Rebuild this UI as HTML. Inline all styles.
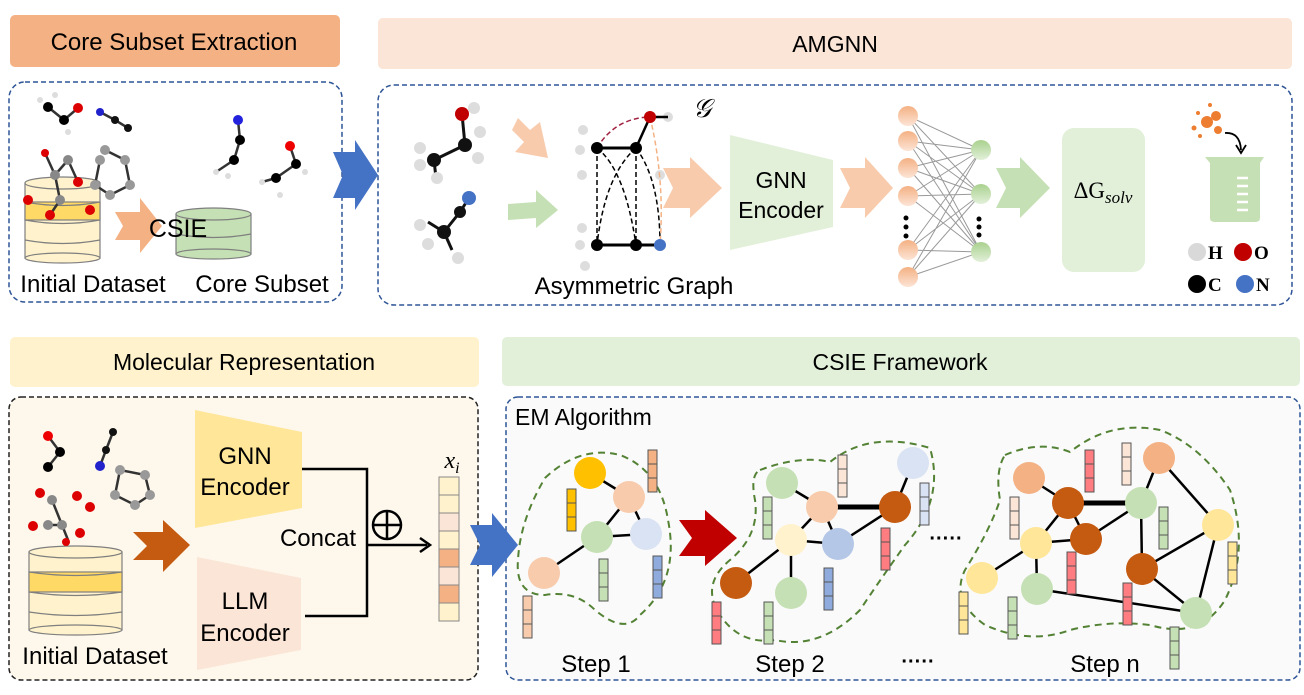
<!DOCTYPE html>
<html><head><meta charset="utf-8"><style>
html,body{margin:0;padding:0;background:#fff;}
svg{display:block;font-family:"Liberation Sans",sans-serif;}
</style></head><body>
<svg width="1304" height="695" viewBox="0 0 1304 695" xmlns="http://www.w3.org/2000/svg">
<!-- headers -->
<rect x="10" y="15" width="330" height="52" rx="5" fill="#F4B183"/>
<text x="174" y="50" font-size="24" text-anchor="middle">Core Subset Extraction</text>
<rect x="378" y="18" width="914" height="51" rx="5" fill="#FBE5D6"/>
<text x="835" y="52" font-size="23" text-anchor="middle">AMGNN</text>
<rect x="10" y="337" width="469" height="50" rx="5" fill="#FFF2CC"/>
<text x="244" y="370" font-size="23" text-anchor="middle">Molecular Representation</text>
<rect x="502" y="337" width="798" height="49" rx="5" fill="#E2F0D9"/>
<text x="900" y="370" font-size="23" text-anchor="middle">CSIE Framework</text>

<!-- dashed boxes -->
<rect x="9" y="82" width="333" height="220" rx="16" fill="none" stroke="#2F5597" stroke-width="1.5" stroke-dasharray="5,3"/>
<rect x="378" y="85" width="914" height="220" rx="16" fill="none" stroke="#2F5597" stroke-width="1.5" stroke-dasharray="5,3"/>
<rect x="9" y="397" width="469" height="283" rx="12" fill="#FEF8EC" stroke="#222" stroke-width="1.5" stroke-dasharray="5,3"/>
<rect x="506" y="397" width="794" height="283" rx="12" fill="#FAFAFA" stroke="#2F5597" stroke-width="1.5" stroke-dasharray="5,3"/>

<!-- blue arrows -->
<polygon points="333,152 355,152 355,140 378,175 355,210 355,198 333,198 343,175" fill="#4472C4"/>
<polygon points="470,525 492,525 492,513 518,545 492,577 492,565 470,565 480,545" fill="#4472C4"/>

<!-- top-left: databases -->
<g stroke="#7f7f7f" stroke-width="1.2">
<rect x="25" y="183" width="75" height="75" fill="#FFF2CC"/>
<rect x="25" y="202" width="75" height="18" fill="#FFD966"/>
<ellipse cx="62.5" cy="258" rx="37.5" ry="5" fill="#FFF2CC"/>
<path d="M25,220 Q62.5,227 100,220 M25,240 Q62.5,247 100,240 M25,202 Q62.5,209 100,202" fill="none"/>
<ellipse cx="62.5" cy="183" rx="37.5" ry="6" fill="#FFF2CC"/>
<rect x="220" y="268" width="0" height="0"/>
<rect x="220" y="264" width="0" height="0"/>
<rect x="220" y="262" width="0" height="0"/>
<rect x="220" y="262" width="0" height="0"/>
<rect x="220" y="261" width="0" height="0"/>
<rect x="220" y="260" width="0" height="0"/>
<rect x="220" y="259" width="0" height="0"/>
<rect x="220" y="258" width="0" height="0"/>
<rect x="220" y="257" width="0" height="0"/>
<rect x="220" y="256" width="0" height="0"/>
<rect x="220" y="255" width="0" height="0"/>
<rect x="220" y="214" width="0" height="0"/>
<rect x="220" y="214" width="0" height="0"/>
<rect x="220" y="214" width="0" height="0"/>
<rect x="220" y="214" width="0" height="0"/>
<rect x="220" y="214" width="0" height="0"/>
<rect x="220" y="214" width="0" height="0"/>
<rect x="220" y="214" width="0" height="0"/>
<rect x="220" y="214" width="0" height="0"/>
<rect x="220" y="214" width="0" height="0"/>
<rect x="220" y="214" width="0" height="0"/>
<rect x="220" y="214" width="0" height="0"/>
<rect x="220" y="214" width="0" height="0"/>
<rect x="176" y="214" width="75" height="40" fill="#C5E0B4"/>
<ellipse cx="213.5" cy="254" rx="37.5" ry="5" fill="#C5E0B4"/>
<path d="M176,234 Q213.5,241 251,234" fill="none"/>
<ellipse cx="213.5" cy="214" rx="37.5" ry="6" fill="#C5E0B4"/>
</g>
<polygon points="115,212 140,212 140,198 162,226 140,253 140,240 115,240 123,226" fill="#F4B183"/>
<text x="178" y="237" font-size="25" text-anchor="middle">CSIE</text>
<text x="93" y="292" font-size="24" text-anchor="middle">Initial Dataset</text>
<text x="262" y="292" font-size="24" text-anchor="middle">Core Subset</text>

<!-- top-left molecules -->
<g stroke="#333" stroke-width="2.5">
<line x1="48" y1="107" x2="64" y2="120"/><line x1="64" y1="120" x2="78" y2="108"/>
<line x1="100" y1="112" x2="115" y2="120"/><line x1="115" y1="120" x2="128" y2="128"/>
<line x1="45" y1="153" x2="55" y2="175"/><line x1="55" y1="175" x2="68" y2="160"/><line x1="68" y1="160" x2="78" y2="182"/><line x1="55" y1="175" x2="60" y2="200"/><line x1="60" y1="200" x2="50" y2="215"/>
<line x1="105" y1="150" x2="125" y2="160"/><line x1="125" y1="160" x2="130" y2="185"/><line x1="130" y1="185" x2="110" y2="195"/><line x1="110" y1="195" x2="95" y2="185"/><line x1="95" y1="185" x2="100" y2="160"/>
<line x1="238" y1="120" x2="240" y2="140"/><line x1="240" y1="140" x2="234" y2="160"/><line x1="234" y1="160" x2="216" y2="172"/>
<line x1="290" y1="146" x2="296" y2="164"/><line x1="296" y1="164" x2="276" y2="178"/><line x1="276" y1="178" x2="262" y2="182"/>
</g>
<g>
<circle cx="48" cy="107" r="5" fill="#000"/><circle cx="64" cy="120" r="5" fill="#000"/><circle cx="78" cy="108" r="5" fill="#d00"/>
<circle cx="40" cy="100" r="3" fill="#ddd"/><circle cx="55" cy="95" r="3" fill="#ddd"/><circle cx="68" cy="132" r="3" fill="#ddd"/>
<circle cx="100" cy="112" r="4" fill="#22c"/><circle cx="115" cy="120" r="4" fill="#111"/><circle cx="128" cy="128" r="4" fill="#111"/>
<circle cx="45" cy="153" r="4" fill="#d00"/><circle cx="55" cy="175" r="5" fill="#888"/><circle cx="68" cy="160" r="5" fill="#888"/><circle cx="78" cy="182" r="5" fill="#d00"/><circle cx="60" cy="200" r="5" fill="#888"/><circle cx="28" cy="200" r="5" fill="#d00"/><circle cx="50" cy="215" r="5" fill="#d00"/><circle cx="90" cy="210" r="5" fill="#d00"/>
<circle cx="105" cy="150" r="5" fill="#999"/><circle cx="125" cy="160" r="5" fill="#999"/><circle cx="130" cy="185" r="5" fill="#999"/><circle cx="110" cy="195" r="5" fill="#999"/><circle cx="95" cy="185" r="5" fill="#999"/><circle cx="100" cy="160" r="5" fill="#999"/>
<circle cx="238" cy="120" r="5" fill="#22d"/><circle cx="240" cy="140" r="5" fill="#000"/><circle cx="234" cy="160" r="5" fill="#000"/><circle cx="216" cy="172" r="3" fill="#ddd"/><circle cx="228" cy="176" r="3" fill="#ddd"/>
<circle cx="290" cy="146" r="5" fill="#e00"/><circle cx="296" cy="164" r="5" fill="#000"/><circle cx="276" cy="178" r="5" fill="#000"/><circle cx="262" cy="182" r="3" fill="#ddd"/><circle cx="305" cy="172" r="3" fill="#ddd"/><circle cx="280" cy="195" r="3" fill="#ddd"/>
</g>

<!-- AMGNN molecules -->
<g stroke="#111" stroke-width="3">
<line x1="462" y1="114" x2="465" y2="145"/><line x1="465" y1="145" x2="434" y2="160"/><line x1="434" y1="160" x2="436" y2="178"/>
<line x1="469" y1="198" x2="460" y2="212"/><line x1="460" y1="212" x2="444" y2="232"/><line x1="444" y1="232" x2="452" y2="250"/><line x1="444" y1="232" x2="428" y2="222"/>
</g>
<circle cx="462" cy="114" r="7" fill="#C00000"/><circle cx="474" cy="108" r="6" fill="#ddd"/>
<circle cx="465" cy="145" r="7" fill="#111"/><circle cx="434" cy="160" r="7" fill="#111"/>
<circle cx="420" cy="148" r="6" fill="#ddd"/><circle cx="420" cy="165" r="6" fill="#ddd"/><circle cx="437" cy="178" r="6" fill="#ddd"/><circle cx="480" cy="132" r="6" fill="#ddd"/><circle cx="478" cy="158" r="6" fill="#ddd"/>
<circle cx="469" cy="198" r="7" fill="#4472C4"/><circle cx="460" cy="212" r="6" fill="#111"/><circle cx="444" cy="232" r="7" fill="#111"/>
<circle cx="420" cy="225" r="6" fill="#ddd"/><circle cx="428" cy="244" r="6" fill="#ddd"/><circle cx="458" cy="258" r="6" fill="#ddd"/>
<polygon points="518,118 530,130 540,122 548,158 515,152 524,142 512,130" fill="#F8CBAD"/>
<polygon points="508,204 536,202 536,190 558,210 536,228 536,218 508,220" fill="#C5E0B4"/>

<!-- asymmetric graph -->
<g>
<circle cx="583" cy="130" r="5" fill="#ddd"/><circle cx="580" cy="150" r="5" fill="#ddd"/><circle cx="582" cy="175" r="5" fill="#ddd"/>
<circle cx="582" cy="228" r="5" fill="#ddd"/><circle cx="580" cy="245" r="5" fill="#ddd"/><circle cx="585" cy="266" r="5" fill="#ddd"/>
<circle cx="668" cy="117" r="5" fill="#ddd"/><circle cx="660" cy="175" r="5" fill="#ddd"/>
<line x1="597" y1="148" x2="636" y2="148" stroke="#000" stroke-width="3"/>
<line x1="597" y1="245" x2="660" y2="245" stroke="#000" stroke-width="3"/>
<line x1="636" y1="148" x2="650" y2="117" stroke="#000" stroke-width="2.5"/>
<line x1="650" y1="117" x2="668" y2="117" stroke="#000" stroke-width="2.5"/>
<g fill="none" stroke="#000" stroke-width="1.5" stroke-dasharray="5,3">
<line x1="597" y1="148" x2="597" y2="245"/><line x1="636" y1="148" x2="636" y2="245"/>
<path d="M597,148 Q625,170 636,245"/><path d="M636,148 Q605,175 597,245"/>
<path d="M636,148 Q660,180 660,245"/>
</g>
<path d="M597,148 Q615,118 650,117" fill="none" stroke="#A02040" stroke-width="1.5" stroke-dasharray="5,3"/>
<path d="M650,117 Q665,180 660,245" fill="none" stroke="#F4B183" stroke-width="1.5" stroke-dasharray="5,3"/>
<circle cx="597" cy="148" r="6" fill="#000"/><circle cx="636" cy="148" r="6" fill="#000"/>
<circle cx="597" cy="245" r="6" fill="#000"/><circle cx="636" cy="245" r="6" fill="#000"/>
<circle cx="660" cy="245" r="6" fill="#4472C4"/><circle cx="650" cy="117" r="6" fill="#C00000"/>
</g>
<text x="702" y="117" font-size="26" font-style="italic" font-family="Liberation Serif,serif" text-anchor="middle">𝒢</text>
<text x="634" y="294" font-size="24" text-anchor="middle">Asymmetric  Graph</text>
<polygon points="663,168 690,168 690,157 722,188 690,218 690,208 663,208 673,188" fill="#F8CBAD"/>
<polygon points="730,135 833,160 833,227 730,250" fill="#E2F0D9"/>
<text x="781" y="188" font-size="23" text-anchor="middle">GNN</text>
<text x="781" y="218" font-size="23" text-anchor="middle">Encoder</text>
<polygon points="840,168 865,168 865,157 893,188 865,218 865,208 840,208 850,188" fill="#F8CBAD"/>

<!-- NN -->
<g stroke="#999" stroke-width="1">
<path d="M908,116 L981,150 M908,116 L981,194 M908,116 L981,252 M908,141 L981,150 M908,141 L981,194 M908,141 L981,252 M908,168 L981,150 M908,168 L981,194 M908,168 L981,252 M908,196 L981,150 M908,196 L981,194 M908,196 L981,252 M908,250 L981,150 M908,250 L981,194 M908,250 L981,252 M908,277 L981,150 M908,277 L981,194 M908,277 L981,252"/>
</g>
<defs>
<linearGradient id="og" x1="0" y1="0" x2="0" y2="1"><stop offset="0" stop-color="#F4B183"/><stop offset="1" stop-color="#FCE4D6"/></linearGradient>
<linearGradient id="gg" x1="0" y1="0" x2="0" y2="1"><stop offset="0" stop-color="#A9D18E"/><stop offset="1" stop-color="#E2F0D9"/></linearGradient>
</defs>
<g fill="url(#og)"><circle cx="908" cy="116" r="10"/><circle cx="908" cy="141" r="10"/><circle cx="908" cy="168" r="10"/><circle cx="908" cy="196" r="10"/><circle cx="908" cy="250" r="10"/><circle cx="908" cy="277" r="10"/></g>
<g fill="#000"><circle cx="906" cy="218" r="2.5"/><circle cx="906" cy="227" r="2.5"/><circle cx="906" cy="236" r="2.5"/><circle cx="979" cy="219" r="2.5"/><circle cx="979" cy="227" r="2.5"/><circle cx="979" cy="235" r="2.5"/></g>
<g fill="url(#gg)"><circle cx="981" cy="150" r="10"/><circle cx="981" cy="194" r="10"/><circle cx="981" cy="252" r="10"/></g>
<polygon points="996,168 1020,168 1020,157 1050,188 1020,218 1020,208 996,208 1006,188" fill="#C5E0B4"/>
<rect x="1062" y="128" width="83" height="144" rx="12" fill="#E2F0D9"/>
<text x="1103" y="198" font-size="23" text-anchor="middle" font-family="Liberation Serif,serif">ΔG<tspan font-style="italic" font-size="17" dy="5">solv</tspan></text>

<!-- beaker -->
<g fill="#ED7D31"><circle cx="1207" cy="122" r="6"/><circle cx="1216" cy="116" r="5"/><circle cx="1198" cy="113" r="2"/><circle cx="1210" cy="105" r="2"/><circle cx="1194" cy="128" r="2.5"/><circle cx="1218" cy="130" r="4"/><circle cx="1200" cy="136" r="2"/></g>
<path d="M1225,133 Q1240,132 1241,150" fill="none" stroke="#000" stroke-width="1.8"/>
<path d="M1236,145 L1241,153 L1246,145" fill="none" stroke="#000" stroke-width="1.8"/>
<path d="M1205,157 L1264,157 L1260,163 L1260,218 Q1260,222 1255,222 L1215,222 Q1210,222 1210,218 L1210,163 Z" fill="#C5E0B4"/>
<g stroke="#fff" stroke-width="2.5"><line x1="1237" y1="178" x2="1248" y2="178"/><line x1="1237" y1="186" x2="1248" y2="186"/><line x1="1237" y1="194" x2="1248" y2="194"/><line x1="1237" y1="202" x2="1248" y2="202"/><line x1="1237" y1="210" x2="1248" y2="210"/></g>
<g font-family="Liberation Serif,serif" font-weight="bold" font-size="19">
<circle cx="1197" cy="252" r="9" fill="#D9D9D9"/><text x="1208" y="259">H</text>
<circle cx="1243" cy="252" r="9" fill="#C00000"/><text x="1254" y="259">O</text>
<circle cx="1197" cy="284" r="9" fill="#000"/><text x="1208" y="291">C</text>
<circle cx="1245" cy="284" r="9" fill="#4472C4"/><text x="1256" y="291">N</text>
</g>

<!-- bottom-left -->
<g stroke="#7f7f7f" stroke-width="1.2">
<rect x="29" y="552" width="93" height="78" fill="#FFF2CC"/>
<rect x="29" y="572" width="93" height="20" fill="#FFD966"/>
<ellipse cx="75.5" cy="630" rx="46.5" ry="5" fill="#FFF2CC"/>
<path d="M29,572 Q75.5,579 122,572 M29,592 Q75.5,599 122,592 M29,612 Q75.5,619 122,612" fill="none"/>
<ellipse cx="75.5" cy="552" rx="46.5" ry="6" fill="#FFF2CC"/>
</g>
<g stroke="#333" stroke-width="2.5">
<line x1="48" y1="436" x2="60" y2="452"/><line x1="60" y1="452" x2="48" y2="467"/>
<line x1="113" y1="432" x2="106" y2="450"/><line x1="106" y1="450" x2="100" y2="466"/>
<line x1="52" y1="500" x2="62" y2="525"/><line x1="62" y1="525" x2="48" y2="525"/><line x1="62" y1="525" x2="68" y2="540"/>
<line x1="120" y1="470" x2="145" y2="475"/><line x1="145" y1="475" x2="150" y2="495"/><line x1="150" y1="495" x2="135" y2="505"/><line x1="135" y1="505" x2="115" y2="495"/><line x1="115" y1="495" x2="120" y2="470"/>
</g>
<circle cx="48" cy="436" r="5" fill="#e00"/><circle cx="60" cy="452" r="5" fill="#000"/><circle cx="48" cy="467" r="5" fill="#000"/>
<circle cx="113" cy="432" r="4" fill="#111"/><circle cx="106" cy="450" r="4" fill="#111"/><circle cx="100" cy="466" r="5" fill="#22c"/>
<circle cx="40" cy="493" r="5" fill="#d00"/><circle cx="52" cy="500" r="5" fill="#888"/><circle cx="62" cy="525" r="5" fill="#888"/><circle cx="77" cy="496" r="5" fill="#d00"/><circle cx="33" cy="526" r="5" fill="#d00"/><circle cx="80" cy="533" r="5" fill="#d00"/><circle cx="66" cy="542" r="4" fill="#d00"/><circle cx="48" cy="525" r="5" fill="#888"/>
<circle cx="120" cy="470" r="5" fill="#999"/><circle cx="145" cy="475" r="5" fill="#999"/><circle cx="150" cy="495" r="5" fill="#999"/><circle cx="135" cy="505" r="5" fill="#999"/><circle cx="115" cy="495" r="5" fill="#999"/><circle cx="90" cy="507" r="5" fill="#d00"/>
<polygon points="133,532 163,532 163,520 190,545 163,572 163,560 133,560 147,546" fill="#C55A11"/>
<polygon points="195,410 302,432 302,508 195,528" fill="#FFE699"/>
<text x="245" y="464" font-size="24" text-anchor="middle">GNN</text>
<text x="245" y="495" font-size="24" text-anchor="middle">Encoder</text>
<polygon points="197,557 301,578 301,650 197,670" fill="#FBE5D6"/>
<text x="245" y="609" font-size="24" text-anchor="middle">LLM</text>
<text x="245" y="641" font-size="24" text-anchor="middle">Encoder</text>
<text x="95" y="664" font-size="24" text-anchor="middle">Initial Dataset</text>
<path d="M302,469 L367,469 L367,616 L305,616" fill="none" stroke="#000" stroke-width="2.5"/>
<line x1="367" y1="545" x2="427" y2="545" stroke="#000" stroke-width="2.5"/>
<path d="M420,538 L430,545 L420,552" fill="none" stroke="#000" stroke-width="2.5"/>
<text x="318" y="546" font-size="24" text-anchor="middle">Concat</text>
<circle cx="387" cy="525" r="14" fill="none" stroke="#000" stroke-width="2.5"/>
<line x1="373" y1="525" x2="401" y2="525" stroke="#000" stroke-width="2.5"/><line x1="387" y1="511" x2="387" y2="539" stroke="#000" stroke-width="2.5"/>
<text x="452" y="468" font-size="24" text-anchor="middle" font-style="italic" font-family="Liberation Serif,serif">x<tspan font-size="16" dy="5">i</tspan></text>
<g stroke="#888" stroke-width="1">
<rect x="439" y="477" width="20" height="18" fill="#FFF2CC"/><rect x="439" y="495" width="20" height="18" fill="#FFF2CC"/><rect x="439" y="513" width="20" height="18" fill="#FBE5D6"/><rect x="439" y="531" width="20" height="18" fill="#FFF2CC"/><rect x="439" y="549" width="20" height="18" fill="#F4B183"/><rect x="439" y="567" width="20" height="18" fill="#FBE5D6"/><rect x="439" y="585" width="20" height="18" fill="#F4B183"/><rect x="439" y="603" width="20" height="18" fill="#FFF2CC"/>
</g>

<!-- CSIE framework -->
<text x="515" y="425" font-size="23">EM Algorithm</text>
<g fill="none" stroke="#548235" stroke-width="2" stroke-dasharray="7,5">
<path d="M545,478 Q580,445 620,455 Q660,470 668,520 Q680,580 640,615 Q625,635 595,610 Q575,590 545,595 Q515,595 518,560 Q520,520 545,478 Z"/>
<path d="M760,470 Q800,455 830,462 Q870,430 930,448 Q945,500 905,545 Q880,580 860,610 Q820,650 775,640 Q740,645 720,615 Q700,585 730,560 Q760,535 755,500 Q750,475 760,470 Z"/>
<path d="M1005,455 Q1040,440 1070,452 Q1110,420 1160,430 Q1200,445 1230,490 Q1250,550 1225,600 Q1200,640 1150,625 Q1110,620 1070,630 Q1030,645 985,625 Q950,600 965,570 Q990,530 1000,500 Q995,470 1005,455 Z"/>
</g>
<g stroke="#000" stroke-width="2.5">
<line x1="590" y1="473" x2="629" y2="497"/><line x1="629" y1="497" x2="597" y2="537"/><line x1="629" y1="497" x2="646" y2="534"/><line x1="597" y1="537" x2="646" y2="534"/><line x1="597" y1="537" x2="544" y2="573"/>
<line x1="782" y1="483" x2="822" y2="507"/><line x1="822" y1="507" x2="791" y2="540"/><line x1="822" y1="507" x2="838" y2="544"/><line x1="791" y1="540" x2="838" y2="544"/><line x1="838" y1="544" x2="895" y2="507"/><line x1="895" y1="507" x2="913" y2="463"/><line x1="791" y1="540" x2="736" y2="583"/><line x1="791" y1="540" x2="791" y2="593"/>
<line x1="1029" y1="478" x2="1068" y2="503"/><line x1="1068" y1="503" x2="1036" y2="543"/><line x1="1068" y1="503" x2="1086" y2="539"/><line x1="1036" y1="543" x2="1086" y2="539"/><line x1="1086" y1="539" x2="1141" y2="503"/><line x1="1141" y1="503" x2="1142" y2="569"/><line x1="1159" y1="458" x2="1141" y2="503"/><line x1="1159" y1="458" x2="1218" y2="525"/><line x1="1142" y1="569" x2="1218" y2="525"/><line x1="1218" y1="525" x2="1196" y2="613"/><line x1="1142" y1="569" x2="1196" y2="613"/><line x1="1037" y1="589" x2="1196" y2="613"/><line x1="1036" y1="543" x2="982" y2="578"/><line x1="1036" y1="543" x2="1037" y2="589"/>
</g>
<line x1="822" y1="507" x2="895" y2="507" stroke="#000" stroke-width="5"/>
<line x1="1068" y1="503" x2="1141" y2="503" stroke="#000" stroke-width="5"/>
<g>
<ellipse cx="590" cy="473" rx="16" ry="16" fill="#FFC000"/><ellipse cx="629" cy="497" rx="16" ry="16" fill="#F8CBAD"/><ellipse cx="597" cy="537" rx="16" ry="16" fill="#C5E0B4"/><ellipse cx="646" cy="534" rx="16" ry="16" fill="#DAE3F3"/><ellipse cx="544" cy="573" rx="16" ry="16" fill="#F8CBAD"/>
<ellipse cx="782" cy="483" rx="16" ry="16" fill="#C5E0B4"/><ellipse cx="822" cy="507" rx="16" ry="16" fill="#F8CBAD"/><ellipse cx="791" cy="540" rx="16" ry="16" fill="#FFF2CC"/><ellipse cx="838" cy="544" rx="16" ry="16" fill="#B4C7E7"/><ellipse cx="895" cy="507" rx="16" ry="16" fill="#C55A11"/><ellipse cx="913" cy="463" rx="16" ry="16" fill="#DAE3F3"/><ellipse cx="736" cy="583" rx="16" ry="16" fill="#C55A11"/><ellipse cx="791" cy="593" rx="16" ry="16" fill="#C5E0B4"/>
<ellipse cx="1029" cy="478" rx="16" ry="16" fill="#F4B183"/><ellipse cx="1068" cy="503" rx="16" ry="16" fill="#C55A11"/><ellipse cx="1159" cy="458" rx="16" ry="16" fill="#F4B183"/><ellipse cx="1141" cy="503" rx="16" ry="16" fill="#C5E0B4"/><ellipse cx="1036" cy="543" rx="16" ry="16" fill="#FFE699"/><ellipse cx="1086" cy="539" rx="16" ry="16" fill="#C55A11"/><ellipse cx="1218" cy="525" rx="16" ry="16" fill="#FFE699"/><ellipse cx="982" cy="578" rx="16" ry="16" fill="#FFE699"/><ellipse cx="1037" cy="589" rx="16" ry="16" fill="#C5E0B4"/><ellipse cx="1142" cy="569" rx="16" ry="16" fill="#C55A11"/><ellipse cx="1196" cy="613" rx="16" ry="16" fill="#C5E0B4"/>
</g>
<polygon points="679,520 705,520 705,510 737,538 705,566 705,556 679,556 692,538" fill="#C00000"/>
<g stroke="#555" stroke-width="1">
<g fill="#F4B183"><rect x="648" y="450" width="9" height="14"/><rect x="648" y="464" width="9" height="14"/><rect x="648" y="478" width="9" height="14"/></g>
<g fill="#FFC000"><rect x="567" y="489" width="9" height="14"/><rect x="567" y="503" width="9" height="14"/><rect x="567" y="517" width="9" height="14"/></g>
<g fill="#C5E0B4"><rect x="599" y="559" width="9" height="14"/><rect x="599" y="573" width="9" height="14"/><rect x="599" y="587" width="9" height="14"/></g>
<g fill="#8FAADC"><rect x="653" y="556" width="9" height="14"/><rect x="653" y="570" width="9" height="14"/><rect x="653" y="584" width="9" height="14"/></g>
<g fill="#F8CBAD"><rect x="523" y="596" width="9" height="14"/><rect x="523" y="610" width="9" height="14"/><rect x="523" y="624" width="9" height="14"/></g>
<g fill="#FBE5D6"><rect x="838" y="455" width="9" height="14"/><rect x="838" y="469" width="9" height="14"/><rect x="838" y="483" width="9" height="14"/></g>
<g fill="#C5E0B4"><rect x="763" y="497" width="9" height="14"/><rect x="763" y="511" width="9" height="14"/><rect x="763" y="525" width="9" height="14"/></g>
<g fill="#DAE3F3"><rect x="920" y="483" width="9" height="14"/><rect x="920" y="497" width="9" height="14"/><rect x="920" y="511" width="9" height="14"/></g>
<g fill="#FF7C80"><rect x="881" y="528" width="9" height="14"/><rect x="881" y="542" width="9" height="14"/><rect x="881" y="556" width="9" height="14"/></g>
<g fill="#8FAADC"><rect x="824" y="568" width="9" height="14"/><rect x="824" y="582" width="9" height="14"/><rect x="824" y="596" width="9" height="14"/></g>
<g fill="#FF7C80"><rect x="712" y="602" width="9" height="14"/><rect x="712" y="616" width="9" height="14"/><rect x="712" y="630" width="9" height="14"/></g>
<g fill="#C5E0B4"><rect x="764" y="602" width="9" height="14"/><rect x="764" y="616" width="9" height="14"/><rect x="764" y="630" width="9" height="14"/></g>
<g fill="#FF7C80"><rect x="1085" y="450" width="9" height="14"/><rect x="1085" y="464" width="9" height="14"/><rect x="1085" y="478" width="9" height="14"/></g>
<g fill="#FBE5D6"><rect x="1122" y="443" width="9" height="14"/><rect x="1122" y="457" width="9" height="14"/><rect x="1122" y="471" width="9" height="14"/></g>
<g fill="#FBE5D6"><rect x="1010" y="497" width="9" height="14"/><rect x="1010" y="511" width="9" height="14"/><rect x="1010" y="525" width="9" height="14"/></g>
<g fill="#C5E0B4"><rect x="1159" y="507" width="9" height="14"/><rect x="1159" y="521" width="9" height="14"/><rect x="1159" y="535" width="9" height="14"/></g>
<g fill="#FF7C80"><rect x="1067" y="552" width="9" height="14"/><rect x="1067" y="566" width="9" height="14"/><rect x="1067" y="580" width="9" height="14"/></g>
<g fill="#FFE699"><rect x="1228" y="542" width="9" height="14"/><rect x="1228" y="556" width="9" height="14"/><rect x="1228" y="570" width="9" height="14"/></g>
<g fill="#FF7C80"><rect x="1123" y="583" width="9" height="14"/><rect x="1123" y="597" width="9" height="14"/><rect x="1123" y="611" width="9" height="14"/></g>
<g fill="#FFE699"><rect x="959" y="592" width="9" height="14"/><rect x="959" y="606" width="9" height="14"/><rect x="959" y="620" width="9" height="14"/></g>
<g fill="#C5E0B4"><rect x="1008" y="597" width="9" height="14"/><rect x="1008" y="611" width="9" height="14"/><rect x="1008" y="625" width="9" height="14"/></g>
<g fill="#C5E0B4"><rect x="1170" y="627" width="9" height="14"/><rect x="1170" y="641" width="9" height="14"/><rect x="1170" y="655" width="9" height="14"/></g>
</g>
<text x="946" y="545" font-size="20" text-anchor="middle" font-weight="bold">·····</text>
<text x="596" y="672" font-size="24" text-anchor="middle">Step 1</text>
<text x="790" y="672" font-size="24" text-anchor="middle">Step 2</text>
<text x="918" y="668" font-size="20" text-anchor="middle" font-weight="bold">·····</text>
<text x="1105" y="672" font-size="24" text-anchor="middle">Step n</text>
</svg>
</body></html>
